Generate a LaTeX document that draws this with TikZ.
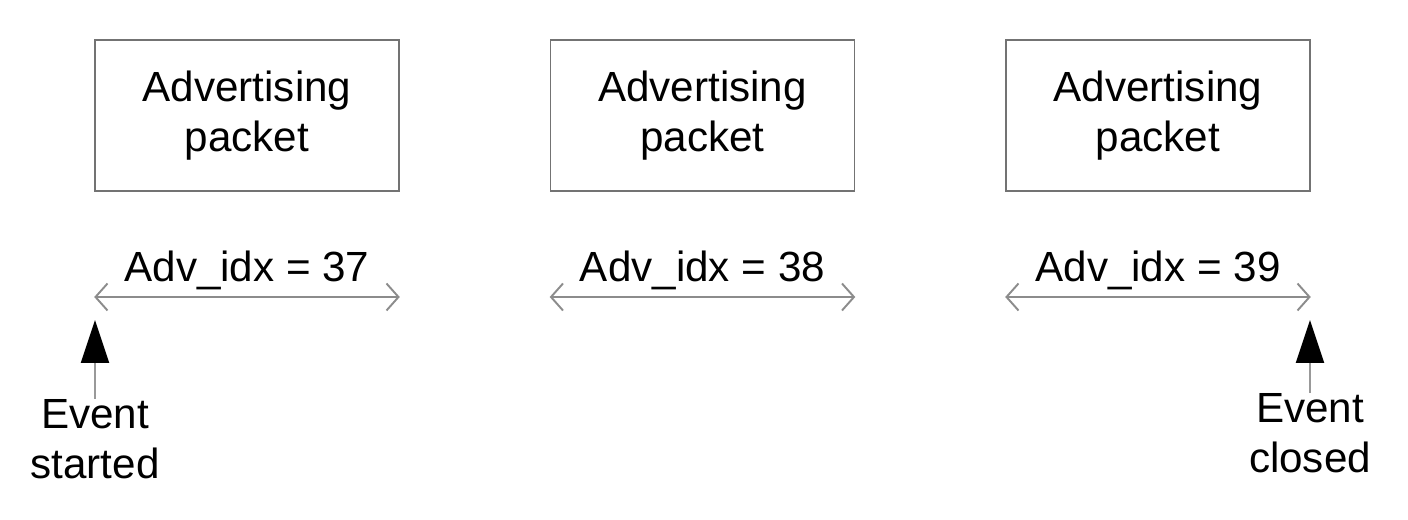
\documentclass[tikz,border=0pt]{standalone}
\usepackage{fontspec}
\setmainfont{Liberation Sans}
\usepackage{tikz}
\usetikzlibrary{arrows.meta, positioning}
\tikzset{
  pkt/.style={rectangle, draw=black!55, line width=0.9pt, fill=white,
              minimum width=6.08cm, minimum height=3.02cm, align=center,
              font=\fontsize{24}{28.4}\selectfont},
  lbl/.style={inner sep=0pt, anchor=base, font=\fontsize{24}{28.4}\selectfont},
  evt/.style={inner sep=0pt, align=center, anchor=north,
              font=\fontsize{24}{28.4}\selectfont},
  span/.style={{Straight Barb[length=2.4mm, width=5.4mm]}-{Straight Barb[length=2.4mm, width=5.4mm]},
               draw=black!45, line width=1.1pt},
  trig/.style={-{Triangle[length=8.6mm, width=5.6mm, color=black, fill=black]},
               draw=black!40, line width=1.1pt}
}
\begin{document}
\begin{tikzpicture}
  \useasboundingbox (0,0) rectangle (28.16,-10.4);
  % packets
  \node[pkt] (pkt1) at (4.94,-2.31) {Advertising\\packet};
  \node[pkt] (pkt2) at (14.05,-2.31) {Advertising\\packet};
  \node[pkt] (pkt3) at (23.16,-2.31) {Advertising\\packet};
  % index labels
  \node[lbl] (idx1) at (4.94,-5.64) {Adv\_idx = 37};
  \node[lbl] (idx2) at (14.05,-5.64) {Adv\_idx = 38};
  \node[lbl] (idx3) at (23.16,-5.64) {Adv\_idx = 39};
  % interval ends
  \coordinate (a1) at (pkt1.west |- 0,-5.94);
  \coordinate (b1) at (pkt1.east |- 0,-5.94);
  \coordinate (a2) at (pkt2.west |- 0,-5.94);
  \coordinate (b2) at (pkt2.east |- 0,-5.94);
  \coordinate (a3) at (pkt3.west |- 0,-5.94);
  \coordinate (b3) at (pkt3.east |- 0,-5.94);
  \draw[span] (a1) -- (b1);
  \draw[span] (a2) -- (b2);
  \draw[span] (a3) -- (b3);
  % events
  \node[evt] (start) at (1.9,-7.98) {Event\\started};
  \node[evt] (close) at (26.2,-7.86) {Event\\closed};
  \coordinate (tipa) at (1.9,-6.4);
  \coordinate (tipb) at (26.2,-6.4);
  \draw[trig] (start.north) -- (tipa);
  \draw[trig] (close.north) -- (tipb);
\end{tikzpicture}
\end{document}
